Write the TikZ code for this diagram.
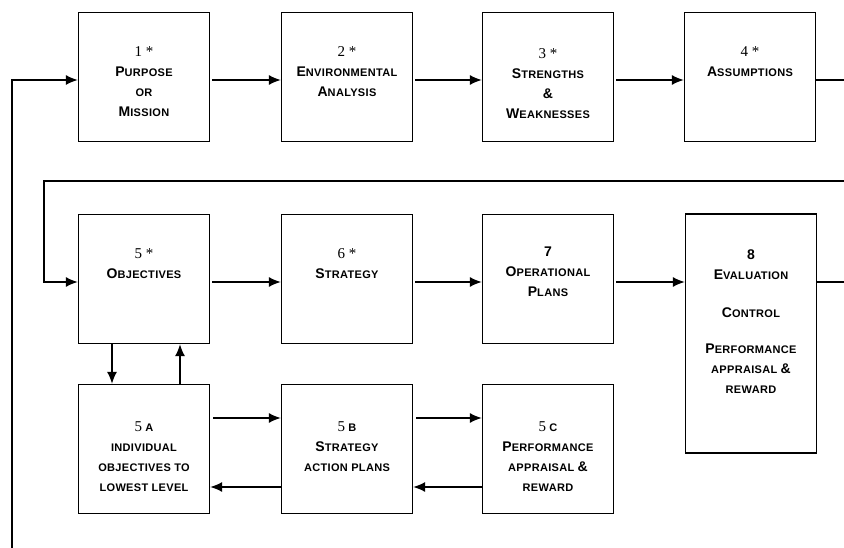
\documentclass[tikz,border=0pt]{standalone}
\usepackage{fontspec}
\setmainfont[LetterSpace=3]{Liberation Sans}
\newfontfamily\numfont{Liberation Serif}
\usetikzlibrary{arrows.meta}
\newcommand\capword[2]{{\fontsize{14}{20}\selectfont #1}#2}
\newcommand\stagenum[1]{{\numfont\mdseries\fontsize{15}{20}\selectfont #1}}

\begin{document}
\begin{tikzpicture}[x=1pt,y=-1pt,
  stage/.style={draw, line width=1.3pt, minimum width=131pt, minimum height=129pt, inner sep=0pt},
  caption/.style={anchor=north, align=center, inner sep=0pt, font=\bfseries\fontsize{11}{20}\selectfont},
  flow/.style={line width=1.4pt, -{Latex[length=12pt,width=10pt]}},
  wire/.style={line width=1.4pt}]
  \useasboundingbox (0,0) rectangle (844,548);

  \node[stage] at (144,77) (purpose) {};
  \node[stage] at (347,77) (environment) {};
  \node[stage] at (548,77) (strengths) {};
  \node[stage] at (750,77) (assumptions) {};
  \node[stage] at (144,279) (objectives) {};
  \node[stage] at (347,279) (strategy) {};
  \node[stage] at (548,279) (operations) {};
  \node[stage, minimum height=239pt] at (751,333.5) (evaluation) {};
  \node[stage] at (144,449) (individual) {};
  \node[stage] at (347,449) (actionplans) {};
  \node[stage] at (548,449) (appraisal) {};

  \node[caption] at (144,46) (purposetext) {\stagenum{1 *}\\ \capword{P}{URPOSE}\\ OR\\ \capword{M}{ISSION}};
  \node[caption] at (347,46) (environmenttext) {\stagenum{2 *}\\ \capword{E}{NVIRONMENTAL}\\ \capword{A}{NALYSIS}};
  \node[caption] at (548,48) (strengthstext) {\stagenum{3 *}\\ \capword{S}{TRENGTHS}\\ \capword{\&}{}\\ \capword{W}{EAKNESSES}};
  \node[caption] at (750,46) (assumptionstext) {\stagenum{4 *}\\ \capword{A}{SSUMPTIONS}};
  \node[caption] at (144,248) (objectivestext) {\stagenum{5 *}\\ \capword{O}{BJECTIVES}};
  \node[caption] at (347,248) (strategytext) {\stagenum{6 *}\\ \capword{S}{TRATEGY}};
  \node[caption] at (548,247) (operationstext) {\capword{7}{}\\ \capword{O}{PERATIONAL}\\ \capword{P}{LANS}};
  \node[caption] at (751,250) (evaluationtext) {\capword{8}{}\\ \capword{E}{VALUATION}\\[18pt] \capword{C}{ONTROL}\\[16pt] \capword{P}{ERFORMANCE}\\ APPRAISAL \capword{\&}{}\\ REWARD};
  \node[caption] at (144,421) (individualtext) {\stagenum{5} A\\ INDIVIDUAL\\ OBJECTIVES TO\\ LOWEST LEVEL};
  \node[caption] at (347,421) (actionplanstext) {\stagenum{5} B\\ \capword{S}{TRATEGY}\\ ACTION PLANS};
  \node[caption] at (548,421) (appraisaltext) {\stagenum{5} C\\ \capword{P}{ERFORMANCE}\\ APPRAISAL \capword{\&}{}\\ REWARD};

  \coordinate (loopfoot) at (12,548);
  \coordinate (exitone) at (844,80);
  \coordinate (loopback) at (844,181);
  \coordinate (loopcorner) at (44,181);
  \coordinate (exittwo) at (844,282);

  \draw[flow] (loopfoot) |- ([yshift=-3pt]purpose.west);
  \draw[flow, shorten <=2pt] ([yshift=-3pt]purpose.east) -- ([yshift=-3pt]environment.west);
  \draw[flow, shorten <=2pt] ([yshift=-3pt]environment.east) -- ([yshift=-3pt]strengths.west);
  \draw[flow, shorten <=2pt] ([yshift=-3pt]strengths.east) -- ([yshift=-3pt]assumptions.west);
  \draw[wire] (assumptions.east |- exitone) -- (exitone);

  \draw[flow] (loopback) -- (loopcorner) |- ([yshift=-3pt]objectives.west);
  \draw[flow, shorten <=2pt] ([yshift=-3pt]objectives.east) -- ([yshift=-3pt]strategy.west);
  \draw[flow, shorten <=2pt] ([yshift=-3pt]strategy.east) -- ([yshift=-3pt]operations.west);
  \draw[flow, shorten <=2pt] ([yshift=-3pt]operations.east) -- (evaluation.west |- exittwo);
  \draw[wire] (evaluation.east |- exittwo) -- (exittwo);

  \draw[flow] ([xshift=-32pt]objectives.south) -- ([xshift=-32pt]individual.north);
  \draw[flow] ([xshift=36pt]individual.north) -- ([xshift=36pt]objectives.south);
  \draw[flow, shorten <=3pt] ([yshift=31pt]individual.east) -- ([yshift=31pt]actionplans.west);
  \draw[flow] ([yshift=-38pt]actionplans.west) -- ([yshift=-38pt]individual.east);
  \draw[flow, shorten <=3pt] ([yshift=31pt]actionplans.east) -- ([yshift=31pt]appraisal.west);
  \draw[flow] ([yshift=-38pt]appraisal.west) -- ([yshift=-38pt]actionplans.east);
\end{tikzpicture}
\end{document}
